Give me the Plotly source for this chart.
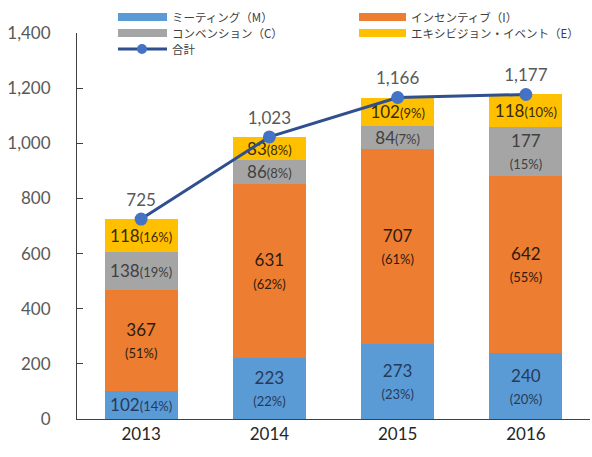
import plotly.graph_objects as go

# ---- data ----
years = ["2013", "2014", "2015", "2016"]
meeting = [102, 223, 273, 240]
incentive = [367, 631, 707, 642]
convention = [138, 86, 84, 177]
exhibition = [118, 83, 102, 118]
totals = [725, 1023, 1166, 1177]

series_names = ["ミーティング（M）", "インセンティブ（I）", "コンベンション（C）", "エキシビジョン・イベント（E）"]
total_name = "合計"

# ---- styles ----
bar_colors = ["#5B9BD5", "#ED7D31", "#A5A5A5", "#FFC000"]
label_colors = ["#263A5A", "#2E1A0E", "#404040", "#3A2A05"]
line_color = "#2F4F8F"
marker_color = "#4472C4"
NUM_FONT = "Lato, 'Noto Sans CJK JP', sans-serif"
JP_FONT = "'Noto Sans CJK JP', sans-serif"

W, H = 592, 457
ML, MR, MT, MB = 77, 2, 33, 38
PW, PH = W - ML - MR, H - MT - MB


def px2x(px):
    return (px - ML) / PW


def px2y(py):
    return (H - MB - py) / PH


def seg_label(v, tot):
    pct = round(v / tot * 100)
    sep = "<br>" if v >= 150 else ""
    return f"{v}{sep}<span style='font-size:13px'>({pct}%)</span>"


fig = go.Figure()
all_series = [meeting, incentive, convention, exhibition]
for name, vals, col, lcol in zip(series_names, all_series, bar_colors, label_colors):
    fig.add_trace(go.Bar(
        x=years, y=vals, name=name,
        marker=dict(color=col, line=dict(width=0)),
        text=[seg_label(v, t) for v, t in zip(vals, totals)],
        textposition="inside", insidetextanchor="middle", textangle=0,
        constraintext="none",
        textfont=dict(family=NUM_FONT, size=17, color=lcol),
        showlegend=False, hoverinfo="skip",
    ))

fig.add_trace(go.Scatter(
    x=years, y=totals, name=total_name, mode="lines+markers+text",
    line=dict(color=line_color, width=3),
    marker=dict(color=marker_color, size=13),
    text=[f"{t:,}" for t in totals], textposition="top center",
    textfont=dict(family=NUM_FONT, size=17, color="#595959"),
    cliponaxis=False, showlegend=False, hoverinfo="skip",
))

# ---- manual legend (Excel style wide swatches) ----
shapes = []
annotations = []
legend_rows = [17, 33, 49]
legend_cols = [(118, 167), (359, 406)]
LEG_FONT = dict(family=JP_FONT, size=11.5, color="#404040")
for i, (name, col) in enumerate(zip(series_names, bar_colors)):
    r, c = divmod(i, 2)
    x0, x1 = legend_cols[c]
    yc = legend_rows[r]
    shapes.append(dict(type="rect", xref="paper", yref="paper",
                       x0=px2x(x0), x1=px2x(x1), y0=px2y(yc + 4), y1=px2y(yc - 4),
                       fillcolor=col, line=dict(width=0), layer="above"))
    annotations.append(dict(xref="paper", yref="paper", x=px2x(x1 + 4), y=px2y(yc),
                            xanchor="left", yanchor="middle", showarrow=False,
                            borderpad=0, text=name, font=LEG_FONT))
yc = legend_rows[2]
shapes.append(dict(type="line", xref="paper", yref="paper",
                   x0=px2x(118), x1=px2x(167), y0=px2y(yc), y1=px2y(yc),
                   line=dict(color=line_color, width=3), layer="above"))
shapes.append(dict(type="circle", xref="paper", yref="paper",
                   x0=px2x(142 - 5), x1=px2x(142 + 5), y0=px2y(yc + 5), y1=px2y(yc - 5),
                   fillcolor=marker_color, line=dict(width=0), layer="above"))
annotations.append(dict(xref="paper", yref="paper", x=px2x(171), y=px2y(yc),
                        xanchor="left", yanchor="middle", showarrow=False,
                        borderpad=0, text=total_name, font=LEG_FONT))

fig.update_layout(
    width=W, height=H,
    margin=dict(l=ML, r=MR, t=MT, b=MB, autoexpand=False),
    barmode="stack", bargap=0.43,
    plot_bgcolor="white", paper_bgcolor="white",
    font=dict(family=NUM_FONT, size=17, color="#404040"),
    shapes=shapes, annotations=annotations,
    showlegend=False, hovermode=False,
    xaxis=dict(showline=True, linecolor="#404040", linewidth=1, ticks="",
               tickfont=dict(family=NUM_FONT, size=17, color="#262626"),
               range=[-0.5, 3.5], showgrid=False, fixedrange=True),
    yaxis=dict(range=[0, 1400], dtick=200, tickformat=",", showline=True,
               linecolor="#404040", linewidth=1, ticks="inside", ticklen=6,
               tickcolor="#404040", showgrid=False, zeroline=False, fixedrange=True,
               tickfont=dict(family=NUM_FONT, size=17, color="#595959"),
               ticklabelstandoff=22),
)

fig.write_html("out.html", config={"displayModeBar": False},
               post_script="document.body.style.margin='0';document.body.style.overflow='hidden';")
